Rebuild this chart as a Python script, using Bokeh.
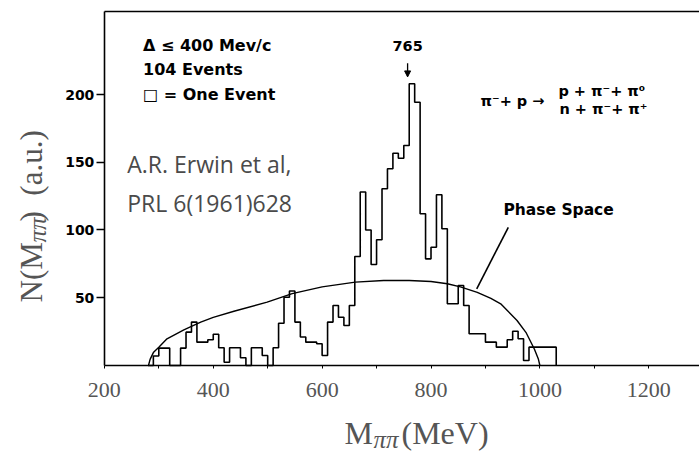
import math
from bokeh.plotting import figure
from bokeh.models import Range1d, FixedTicker, LinearAxis, Label, Arrow, NormalHead
from bokeh.embed import file_html
from bokeh.resources import INLINE

# ---------------- data ----------------
# histogram of M_pipi, 10 MeV bins, left edges
bin_left = list(range(280, 1030, 10))
bin_width = 10
counts = [0, 7, 12.8, 12.8, 0, 0, 12.8, 24.6, 32, 17.2,
          17.2, 19, 23, 13.1, 2.4, 13.1, 13.1, 5.7, 0, 13.1,
          13.1, 7.4, 0, 13.1, 31.2, 50.4, 55, 32, 21, 17.2,
          17.2, 16, 7.4, 32, 44.3, 35.6, 29.5, 44.3, 80.4, 128,
          100, 74.5, 92.8, 130.4, 145.2, 156.7, 153, 162.4, 207.9, 194.3,
          112, 78.7, 87.3, 126, 100.9, 45.5, 45.5, 59, 44.3, 23.4,
          23.4, 23.4, 17.2, 17.2, 13.5, 13.5, 19, 25.3, 19.7, 3.7,
          13.5, 13.5, 13.5, 13.5, 13.5]

# phase-space curve
phase_m = [281, 284, 290, 300, 315, 346, 377, 400, 438, 499, 545, 600, 661,
           713, 760, 800, 830, 854, 885, 910, 928, 958, 975, 990, 997, 1000]
phase_n = [0, 4.5, 9.5, 13.5, 19.7, 26.3, 32, 35.5, 40, 46.7, 53, 58, 61.5,
           62.7, 62.7, 62, 60.3, 58, 54, 49.5, 45.5, 33.2, 24, 12, 5, 0]

# pointer from the "Phase Space" label to the curve
pointer_m = [942, 884]
pointer_n = [102, 56.6]

peak_mass = 757          # position of the "765" arrow on this axis
x_major = [200, 400, 600, 800, 1000, 1200]
x_minor = [300, 500, 700, 900, 1100]
y_ticks = [50, 100, 150, 200]

# plotting box of the original figure
X_AXIS_AT = 0
Y_AXIS_AT = 200
BOX_TOP = 261.6
BOX_RIGHT = 1293

# ---------------- figure ----------------
# the frame covers the whole canvas; axes are drawn at fixed locations
p = figure(width=699, height=456, output_backend="svg", toolbar_location=None,
           x_range=Range1d(9.2, 1293.2), y_range=Range1d(-67.2, 269.4),
           min_border=0)
p.outline_line_color = None
p.xgrid.visible = False
p.ygrid.visible = False
p.background_fill_color = "white"
p.border_fill_color = "white"

# histogram outline
xs = bin_left + [bin_left[-1] + bin_width]
ys = counts + [0]
p.step(xs, ys, mode="after", line_color="black", line_width=1.6)

# phase space curve and pointer
p.line(phase_m, phase_n, line_color="black", line_width=1.4)
p.line(pointer_m, pointer_n, line_color="black", line_width=1.6)

# x axis (baseline)
xa = p.xaxis[0]
xa.fixed_location = X_AXIS_AT
xa.bounds = (Y_AXIS_AT, BOX_RIGHT)
xa.ticker = FixedTicker(ticks=x_major, minor_ticks=x_minor)
xa.axis_line_color = "black"
xa.axis_line_width = 1.6
xa.major_tick_in = 0
xa.major_tick_out = 3
xa.minor_tick_in = 0
xa.minor_tick_out = 3
xa.major_tick_line_color = "black"
xa.minor_tick_line_color = "black"
xa.major_label_text_font = "Liberation Serif"
xa.major_label_text_font_size = "22px"
xa.major_label_text_color = "#555555"
xa.major_label_standoff = 15

# y axis
ya = p.yaxis[0]
ya.fixed_location = Y_AXIS_AT
ya.bounds = (X_AXIS_AT, BOX_TOP)
ya.ticker = FixedTicker(ticks=y_ticks)
ya.axis_line_color = "black"
ya.axis_line_width = 1.6
ya.major_tick_in = 0
ya.major_tick_out = 8
ya.major_tick_line_width = 1.4
ya.major_label_text_font = "DejaVu Sans"
ya.major_label_text_font_style = "bold"
ya.major_label_text_font_size = "14px"
ya.major_label_text_color = "black"
ya.major_label_standoff = 2

# top frame line
top = LinearAxis(fixed_location=BOX_TOP, bounds=(Y_AXIS_AT, BOX_RIGHT),
                 ticker=FixedTicker(ticks=[]), axis_line_color="black",
                 axis_line_width=1.6, major_tick_out=0, major_tick_in=0,
                 minor_tick_out=0, minor_tick_in=0)
p.add_layout(top, "above")

# ---------------- annotations ----------------
scan = dict(text_font="DejaVu Sans", text_font_style="bold", text_color="black")

def lab(x, y, t, size, align="left", baseline="middle", **kw):
    style = dict(scan)
    style.update(kw)
    p.add_layout(Label(x=x, y=y, text=t, text_font_size=size, text_align=align,
                       text_baseline=baseline, **style))

lab(271, 236, "Δ ≤ 400 Mev/c", "16px")
lab(271, 218.2, "104 Events", "16px")
lab(271, 199.8, "□ = One Event", "16px")
lab(peak_mass, 236, "765", "14.5px", align="center")
p.add_layout(Arrow(end=NormalHead(size=6, fill_color="black", line_color="black"),
                   x_start=peak_mass, y_start=223, x_end=peak_mass, y_end=213,
                   line_color="black", line_width=1.3))
lab(891, 195, "π⁻+ p →", "14.5px")
lab(1034, 202.4, "p + π⁻+ π⁰", "14.5px")
lab(1036, 189.4, "n + π⁻+ π⁺", "14.5px")
lab(933, 115, "Phase Space", "15.5px")

ref = dict(text_font="Open Sans", text_font_style="normal", text_color="#4a4a4a")
lab(242, 149, "A.R. Erwin et al,", "23px", **ref)
lab(242, 119.6, "PRL 6(1961)628", "23px", **ref)

# axis titles, in canvas pixels from the bottom-left corner
title = dict(text_color="#555555", x_units="screen", y_units="screen",
             text_font="Liberation Serif", text_align="left",
             text_baseline="alphabetic")
p.add_layout(Label(x=344, y=24, text="M", text_font_size="32px", **title))
p.add_layout(Label(x=373, y=17, text="ππ", text_font_style="italic",
                   text_font_size="25px", **title))
p.add_layout(Label(x=401, y=24, text="(MeV)", text_font_size="32px", **title))

ang = math.pi / 2
p.add_layout(Label(x=31, y=154, text="N(M", text_font_size="31px", angle=ang, **title))
p.add_layout(Label(x=37, y=214, text="ππ", text_font_style="italic",
                   text_font_size="25px", angle=ang, **title))
p.add_layout(Label(x=31, y=235, text=")\u00a0\u00a0(a.u.)", text_font_size="31px",
                   angle=ang, **title))

open("out.html", "w").write(file_html(p, INLINE))
